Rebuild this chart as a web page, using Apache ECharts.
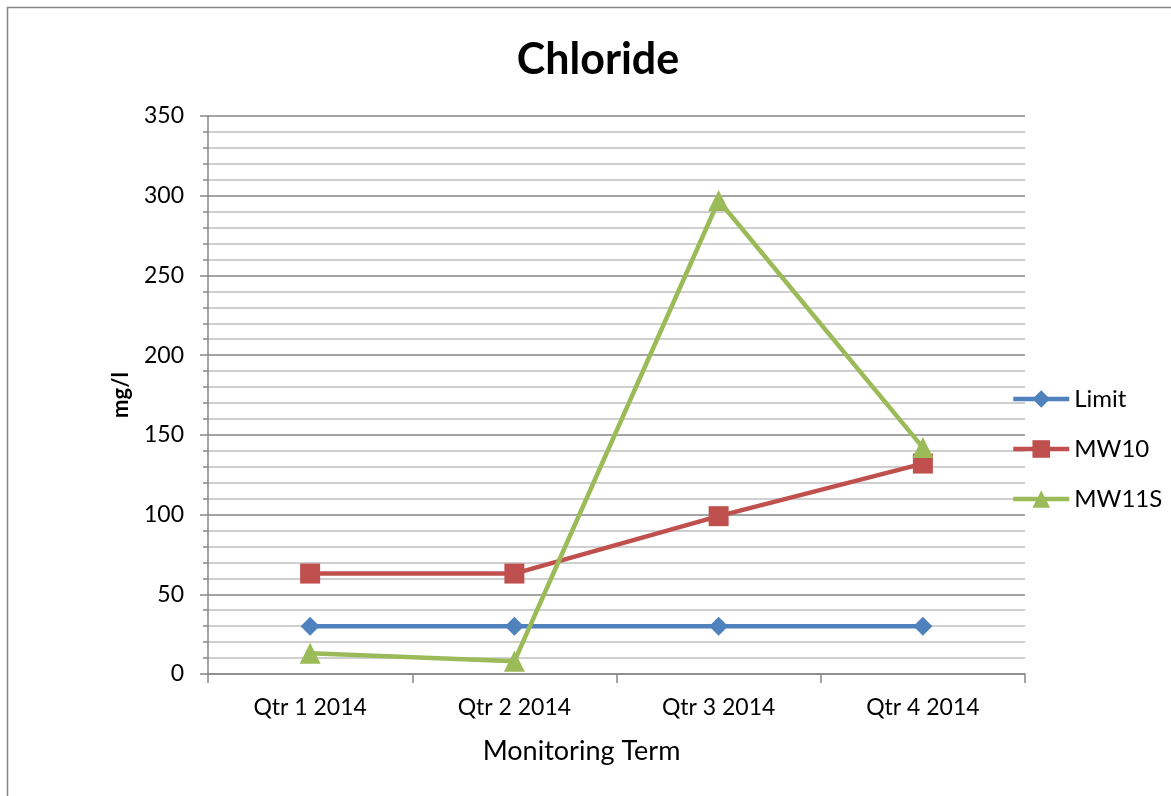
<!DOCTYPE html>
<html>
<head>
<meta charset="utf-8">
<style>
  html, body { margin: 0; padding: 0; background: #fff; }
  #chart { width: 1171px; height: 796px; }
</style>
<script src="https://cdn.jsdelivr.net/npm/echarts@6/dist/echarts.min.js"></script>
</head>
<body>
<div id="chart"></div>
<script>
// 数据
var categories = ['Qtr 1 2014', 'Qtr 2 2014', 'Qtr 3 2014', 'Qtr 4 2014'];
var limitValues = [30, 30, 30, 30];
var mw10Values = [63, 63, 99, 132];
var mw11sValues = [13, 8, 297, 142];

var FONT = 'Lato, "Open Sans", sans-serif';
var chart = echarts.init(document.getElementById('chart'));

function lineSeries(name, data, color, symbol, size) {
    return {
        name: name,
        type: 'line',
        data: data,
        symbol: symbol,
        symbolSize: size,
        lineStyle: { color: color, width: 4.5 },
        itemStyle: { color: color },
        z: 3
    };
}

chart.setOption({
    backgroundColor: '#fff',
    animation: false,
    title: {
        text: 'Chloride',
        left: 593,
        textAlign: 'center',
        top: 34,
        textStyle: { fontFamily: FONT, fontSize: 43, fontWeight: 'bold', color: '#000' }
    },
    legend: {
        orient: 'vertical',
        left: 1006,
        top: 382,
        itemGap: 26,
        itemWidth: 56,
        itemHeight: 22,
        lineStyle: { width: 4.5 },
        textStyle: { fontFamily: FONT, fontSize: 24, color: '#000' },
        data: ['Limit', 'MW10', 'MW11S']
    },
    grid: { left: 208, right: 146, top: 116, bottom: 122 },
    xAxis: {
        type: 'category',
        data: categories,
        boundaryGap: true,
        name: 'Monitoring Term',
        nameLocation: 'middle',
        nameGap: 64,
        nameTextStyle: { fontFamily: FONT, fontSize: 27, color: '#000', padding: [0, 70, 0, 0] },
        axisLine: { lineStyle: { color: '#868686', width: 1.5 } },
        axisTick: { show: true, length: 9, lineStyle: { color: '#868686', width: 1.5 } },
        axisLabel: { fontFamily: FONT, fontSize: 23, color: '#000', margin: 22 }
    },
    yAxis: {
        type: 'value',
        min: 0,
        max: 350,
        interval: 50,
        name: 'mg/l',
        nameLocation: 'middle',
        nameGap: 76,
        nameTextStyle: { fontFamily: FONT, fontSize: 22, fontWeight: 'bold', color: '#000' },
        axisLine: { show: true, lineStyle: { color: '#868686', width: 1.5 } },
        axisTick: { show: true, length: 8, lineStyle: { color: '#868686', width: 1.5 } },
        minorTick: { show: true, splitNumber: 5, length: 5, lineStyle: { color: '#868686', width: 1.5 } },
        axisLabel: { fontFamily: FONT, fontSize: 23, color: '#000', margin: 24 },
        splitLine: { lineStyle: { color: '#868686', width: 1.5 } },
        minorSplitLine: { show: true, lineStyle: { color: '#c0c0c0', width: 1.5 } }
    },
    series: [
        lineSeries('Limit', limitValues, '#4F81BD', 'diamond', 19),
        lineSeries('MW10', mw10Values, '#C0504D', 'rect', 20),
        lineSeries('MW11S', mw11sValues, '#9BBB59', 'triangle', 21)
    ],
    graphic: [{
        type: 'rect',
        shape: { x: 7.5, y: 7.5, width: 1200, height: 1200 },
        style: { fill: 'none', stroke: '#868686', lineWidth: 1.5 },
        silent: true
    }]
});
</script>
</body>
</html>
